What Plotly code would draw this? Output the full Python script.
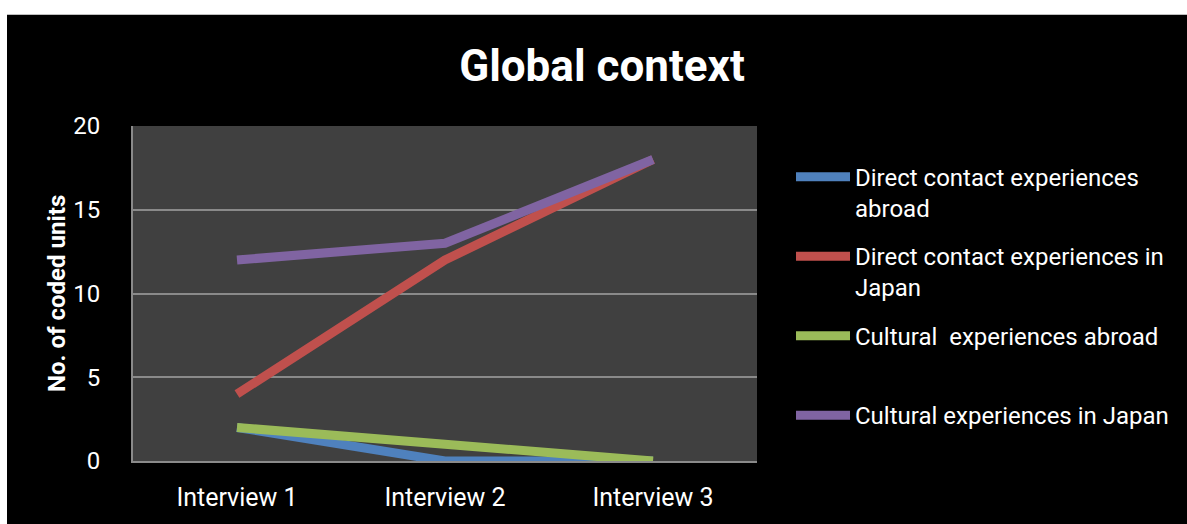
import plotly.graph_objects as go

# Coded-unit counts per interview, one list per category
interviews = ["Interview 1", "Interview 2", "Interview 3"]
direct_abroad = [2, 0, 0]
direct_japan = [4, 12, 18]
cultural_abroad = [2, 1, 0]
cultural_japan = [12, 13, 18]

series_names = [
    "Direct contact experiences<br>abroad",
    "Direct contact experiences in<br>Japan",
    "Cultural  experiences abroad",
    "Cultural experiences in Japan",
]
series_values = [direct_abroad, direct_japan, cultural_abroad, cultural_japan]
series_colors = ["#4f81bd", "#c0504d", "#9bbb59", "#8064a2"]

W, H = 1187, 524
L, R, T, B = 133, 757, 126, 463  # plot-area edges in pixels

FONT = "Roboto, Lato, sans-serif"


def px_x(px):
    return (px - L) / (R - L)


def px_y(py):
    return (B - py) / (B - T)


fig = go.Figure()
for name, vals, col in zip(series_names, series_values, series_colors):
    fig.add_trace(go.Scatter(
        x=interviews, y=vals, mode="lines", name=name,
        line=dict(color=col, width=9),
        showlegend=False,
    ))

shapes = [
    # white strips along the top and left edges of the page
    dict(type="rect", xref="paper", yref="paper",
         x0=px_x(0), x1=px_x(W + 5), y0=px_y(-5), y1=px_y(14),
         fillcolor="white", line_width=0, layer="above"),
    dict(type="rect", xref="paper", yref="paper",
         x0=px_x(-5), x1=px_x(7), y0=px_y(-5), y1=px_y(H + 5),
         fillcolor="white", line_width=0, layer="above"),
]

annotations = []
legend_rows = [177, 257, 337, 417]
for name, col, row in zip(series_names, series_colors, legend_rows):
    shapes.append(dict(
        type="line", xref="paper", yref="paper",
        x0=px_x(796), x1=px_x(850), y0=px_y(row), y1=px_y(row),
        line=dict(color=col, width=9), layer="above",
    ))
    annotations.append(dict(
        text=name, xref="paper", yref="paper",
        x=px_x(853), y=px_y(row - 15), xanchor="left", yanchor="top",
        align="left", showarrow=False,
        font=dict(family=FONT, size=24, color="white"),
    ))

annotations.append(dict(
    text="<b>No. of coded units</b>", xref="paper", yref="paper",
    x=px_x(57), y=px_y(295), xanchor="center", yanchor="middle",
    textangle=-90, showarrow=False,
    font=dict(family=FONT, size=24, color="white"),
))

fig.update_layout(
    width=W, height=H,
    margin=dict(l=L, r=W - R, t=T, b=H - B, pad=0),
    paper_bgcolor="black",
    plot_bgcolor="#404040",
    showlegend=False,
    title=dict(
        text="<b>Global context</b>", x=px_x(602), xref="paper",
        y=1 - 66 / H, yref="container", xanchor="center", yanchor="middle",
        font=dict(family=FONT, size=44, color="white"),
    ),
    xaxis=dict(
        type="category", range=[-0.5, 2.5], showgrid=False,
        showline=True, linecolor="#8a8a8a", linewidth=2,
        ticks="", ticklabelstandoff=13,
        tickfont=dict(family=FONT, size=25, color="white"),
        zeroline=False,
    ),
    yaxis=dict(
        range=[0, 20], dtick=5, showgrid=True, gridcolor="#8a8a8a",
        gridwidth=2, showline=True, linecolor="#8a8a8a", linewidth=2,
        ticks="", ticklabelstandoff=26, zeroline=False,
        tickfont=dict(family=FONT, size=24, color="white"),
    ),
    shapes=shapes,
    annotations=annotations,
)

fig.write_html("out.html")
